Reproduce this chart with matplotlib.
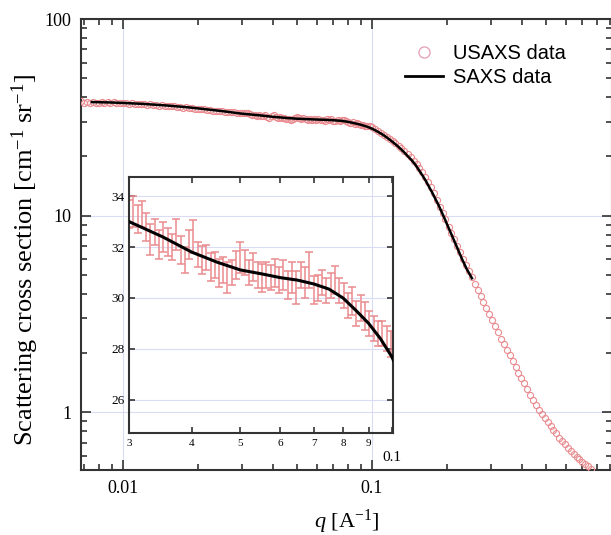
import matplotlib
matplotlib.use("Agg")
import matplotlib.pyplot as plt
from matplotlib.ticker import LogLocator, NullFormatter, FixedLocator, FixedFormatter
import numpy as np

# USAXS data, low q part
q_low = [0.0068, 0.0070, 0.0072, 0.0074, 0.0076, 0.0078, 0.0080, 0.0082, 0.0084, 0.0087,
         0.0089, 0.0092, 0.0094, 0.0097, 0.0100, 0.0103, 0.0106, 0.0109, 0.0112, 0.0115,
         0.0118, 0.0121, 0.0125, 0.0128, 0.0132, 0.0136, 0.0139, 0.0143, 0.0147, 0.0151,
         0.0156, 0.0160, 0.0165, 0.0169, 0.0174, 0.0179, 0.0184, 0.0189, 0.0194, 0.0200,
         0.0205, 0.0211, 0.0217, 0.0223, 0.0229, 0.0236, 0.0242, 0.0249, 0.0256, 0.0263,
         0.0271, 0.0278, 0.0286, 0.0294]
i_low = [38.2, 37.4, 37.9, 37.2, 38.0, 37.6, 37.3, 37.9, 37.5, 37.8,
         37.3, 37.7, 37.4, 37.6, 37.2, 37.5, 37.1, 37.3, 36.9, 37.1,
         36.8, 36.9, 36.6, 36.8, 36.5, 36.6, 36.3, 36.4, 36.1, 36.2,
         35.9, 35.9, 35.6, 35.7, 35.4, 35.5, 35.1, 35.2, 34.9, 35.0,
         34.7, 34.7, 34.4, 34.5, 34.2, 34.1, 33.9, 34.0, 33.7, 33.6,
         33.5, 33.5, 33.2, 33.3]

# USAXS data shown in the inset (q in 1e-2 A^-1)
q_mid = [3.00, 3.06, 3.12, 3.18, 3.25, 3.31, 3.38, 3.44, 3.51, 3.58,
         3.65, 3.72, 3.80, 3.87, 3.95, 4.03, 4.11, 4.19, 4.27, 4.36,
         4.44, 4.53, 4.62, 4.71, 4.81, 4.90, 5.00, 5.10, 5.20, 5.30,
         5.41, 5.52, 5.63, 5.74, 5.85, 5.97, 6.09, 6.21, 6.33, 6.46,
         6.59, 6.72, 6.85, 6.99, 7.13, 7.27, 7.41, 7.56, 7.71, 7.87,
         8.02, 8.18, 8.35, 8.51, 8.68, 8.86, 9.03, 9.21, 9.40, 9.58,
         9.77, 9.97]
i_mid = [33.3, 33.4, 33.1, 33.3, 32.8, 32.3, 32.6, 32.1, 32.4, 32.2,
         32.0, 32.5, 31.9, 31.5, 32.1, 32.4, 31.7, 31.5, 31.6, 31.2,
         31.3, 31.0, 31.1, 30.8, 31.0, 31.3, 31.6, 31.4, 31.0, 31.2,
         30.9, 30.8, 30.9, 30.8, 31.0, 30.7, 30.9, 30.5, 30.8, 30.4,
         30.9, 30.6, 31.1, 30.3, 30.4, 30.6, 30.3, 30.5, 30.7, 30.3,
         30.1, 29.7, 29.9, 29.4, 29.6, 29.3, 29.0, 28.8, 28.6, 28.6,
         28.4, 28.2]
e_mid = [0.55, 0.6, 0.55, 0.5, 0.55, 0.6, 0.5, 0.55, 0.6, 0.55,
         0.5, 0.6, 0.55, 0.5, 0.55, 0.65, 0.5, 0.55, 0.5, 0.55,
         0.5, 0.55, 0.5, 0.6, 0.5, 0.55, 0.6, 0.5, 0.5, 0.55,
         0.5, 0.55, 0.5, 0.5, 0.55, 0.5, 0.6, 0.55, 0.6, 0.65,
         0.5, 0.6, 0.7, 0.55, 0.5, 0.5, 0.5, 0.5, 0.55, 0.5,
         0.5, 0.5, 0.55, 0.5, 0.5, 0.55, 0.5, 0.5, 0.5, 0.5,
         0.5, 0.5]

# USAXS data, high q part
q_high = [0.103, 0.106, 0.109, 0.112, 0.115, 0.118, 0.121, 0.124, 0.128, 0.131,
          0.135, 0.139, 0.143, 0.147, 0.151, 0.155, 0.159, 0.163, 0.168, 0.172,
          0.177, 0.182, 0.187, 0.192, 0.197, 0.203, 0.208, 0.214, 0.220, 0.226,
          0.232, 0.238, 0.245, 0.252, 0.259, 0.266, 0.273, 0.280, 0.288, 0.296,
          0.304, 0.312, 0.321, 0.330, 0.339, 0.348, 0.357, 0.367, 0.377, 0.387,
          0.398, 0.409, 0.420, 0.431, 0.443, 0.455, 0.468, 0.480, 0.493, 0.507,
          0.521, 0.535, 0.549, 0.564, 0.580, 0.595, 0.612, 0.628, 0.645, 0.663,
          0.681, 0.700, 0.719, 0.738, 0.758]
i_high = [27.6, 27.0, 26.4, 25.8, 25.2, 24.6, 24.0, 23.4, 22.6, 22.0,
          21.3, 20.6, 19.8, 19.0, 18.2, 17.4, 16.6, 15.8, 14.8, 14.0,
          13.0, 12.0, 11.1, 10.3, 9.6, 8.8, 8.2, 7.6, 7.0, 6.5,
          6.0, 5.6, 5.2, 4.85, 4.5, 4.2, 3.9, 3.65, 3.4, 3.15,
          2.95, 2.75, 2.55, 2.37, 2.22, 2.08, 1.95, 1.82, 1.70, 1.59,
          1.49, 1.40, 1.31, 1.23, 1.16, 1.09, 1.03, 0.98, 0.93, 0.89,
          0.85, 0.81, 0.78, 0.74, 0.71, 0.685, 0.66, 0.635, 0.615, 0.595,
          0.575, 0.56, 0.545, 0.53, 0.515]

# SAXS curve
q_saxs = [0.0075, 0.009, 0.010, 0.012, 0.015, 0.018, 0.020, 0.025, 0.030, 0.035,
          0.040, 0.045, 0.050, 0.055, 0.060, 0.065, 0.070, 0.075, 0.080, 0.085,
          0.090, 0.095, 0.100, 0.105, 0.110, 0.115, 0.120, 0.125, 0.130, 0.135,
          0.140, 0.145, 0.150, 0.155, 0.160, 0.165, 0.170, 0.175, 0.180, 0.185,
          0.190, 0.195, 0.200, 0.210, 0.220, 0.230, 0.240, 0.252]
i_saxs = [37.8, 37.6, 37.4, 37.0, 36.3, 35.6, 35.1, 34.0, 33.0, 32.4,
          31.8, 31.4, 31.1, 30.95, 30.8, 30.7, 30.55, 30.35, 30.0, 29.5,
          29.0, 28.4, 27.7, 26.8, 25.9, 24.9, 23.9, 22.9, 21.9, 20.9,
          19.9, 19.0, 18.0, 16.9, 15.9, 14.9, 13.9, 13.0, 12.1, 11.3,
          10.5, 9.75, 9.05, 7.85, 6.85, 6.0, 5.35, 4.8]

usaxs_color = "#e98b90"
legend_color = "#e4a6bc"
grid_color = "#d9dcf2"
frame_color = "#333333"
serif = ["Liberation Serif", "DejaVu Serif"]

plt.rcParams["mathtext.fontset"] = "custom"
plt.rcParams["mathtext.rm"] = "Liberation Serif"
plt.rcParams["mathtext.it"] = "Liberation Serif:italic"


def main():
    q_mid_A = [x / 100.0 for x in q_mid]
    q_all = q_low + q_mid_A + q_high
    i_all = i_low + i_mid + i_high

    fig = plt.figure(figsize=(6.11, 5.35), dpi=100)
    ax = fig.add_axes([81 / 611, 1 - 470 / 535, 531 / 611, 451 / 535])

    ax.plot(q_all, i_all, "o", mfc="none", mec=usaxs_color, ms=4.4, mew=0.8,
            zorder=3)
    ax.plot(q_saxs, i_saxs, "-", color="black", lw=1.8, zorder=4)
    # legend entries
    ax.plot([], [], "o", mfc="none", mec=legend_color, ms=8, mew=1.0, label="USAXS data")
    ax.plot([], [], "-", color="black", lw=2.0, label="SAXS data")

    ax.set_xscale("log")
    ax.set_yscale("log")
    ax.set_xlim(0.00678, 0.92)
    ax.set_ylim(0.508, 100)
    ax.grid(True, which="major", color=grid_color, lw=0.8, zorder=0)

    ax.xaxis.set_major_locator(FixedLocator([0.01, 0.1]))
    ax.xaxis.set_major_formatter(FixedFormatter(["0.01", "0.1"]))
    ax.xaxis.set_minor_locator(LogLocator(subs=np.arange(2, 10)))
    ax.xaxis.set_minor_formatter(NullFormatter())
    ax.yaxis.set_major_locator(FixedLocator([1, 10, 100]))
    ax.yaxis.set_major_formatter(FixedFormatter(["1", "10", "100"]))
    ax.yaxis.set_minor_locator(LogLocator(subs=np.arange(2, 10)))
    ax.yaxis.set_minor_formatter(NullFormatter())
    ax.tick_params(which="both", direction="in", top=True, right=True,
                   color=frame_color, width=1.2)
    ax.tick_params(which="major", length=7.5, labelsize=13, pad=7)
    ax.tick_params(which="minor", length=4.5)
    for lab in ax.get_xticklabels() + ax.get_yticklabels():
        lab.set_family(serif)
    for s in ax.spines.values():
        s.set_color(frame_color)
        s.set_linewidth(1.5)

    ax.set_xlabel("$q$ [A$^{-1}$]", fontsize=16, family=serif, labelpad=8)
    ax.set_ylabel("Scattering cross section [cm$^{-1}$ sr$^{-1}$]",
                  fontsize=19, family=serif)
    ax.yaxis.set_label_coords(-0.075, 0.465)

    ax.legend(loc="upper left", bbox_to_anchor=(0.61, 0.945), frameon=False,
              prop={"family": "Liberation Sans", "size": 14.5},
              handlelength=1.9, handletextpad=0.5, labelspacing=0.25,
              borderpad=0, borderaxespad=0)

    # inset
    ax2 = fig.add_axes([129 / 611, 1 - 433 / 535, 264 / 611, 256 / 535])
    ax2.patch.set_alpha(0)
    ax2.errorbar(q_mid_A, i_mid, yerr=e_mid, fmt="none", ecolor=usaxs_color,
                 elinewidth=1.1, capsize=2.8, capthick=1.1, zorder=2)
    ax2.plot(q_saxs, i_saxs, "-", color="black", lw=2.2, zorder=3)
    ax2.set_xscale("log")
    ax2.set_xlim(0.03, 0.1006)
    ax2.set_ylim(24.7, 34.75)
    ax2.yaxis.set_major_locator(FixedLocator([26, 28, 30, 32, 34]))
    ax2.yaxis.grid(True, color=grid_color, lw=0.8)
    ticks = [0.03, 0.04, 0.05, 0.06, 0.07, 0.08, 0.09, 0.1]
    ax2.xaxis.set_major_locator(FixedLocator(ticks))
    ax2.xaxis.set_major_formatter(FixedFormatter(["3", "4", "5", "6", "7", "8", "9", "0.1"]))
    ax2.xaxis.set_minor_locator(FixedLocator([]))
    ax2.tick_params(which="both", direction="in", top=True, right=True,
                    color=frame_color, width=1.2, length=4.5)
    ax2.tick_params(axis="x", labelsize=8, pad=4)
    ax2.tick_params(axis="y", labelsize=9.5, pad=3)
    for lab in ax2.get_xticklabels() + ax2.get_yticklabels():
        lab.set_family(serif)
    last = ax2.get_xticklabels()[-1]
    last.set_fontsize(11)
    last.set_y(-0.05)
    for s in ax2.spines.values():
        s.set_color(frame_color)
        s.set_linewidth(1.5)

    fig.savefig("out.png", dpi=100)


if __name__ == "__main__":
    main()
